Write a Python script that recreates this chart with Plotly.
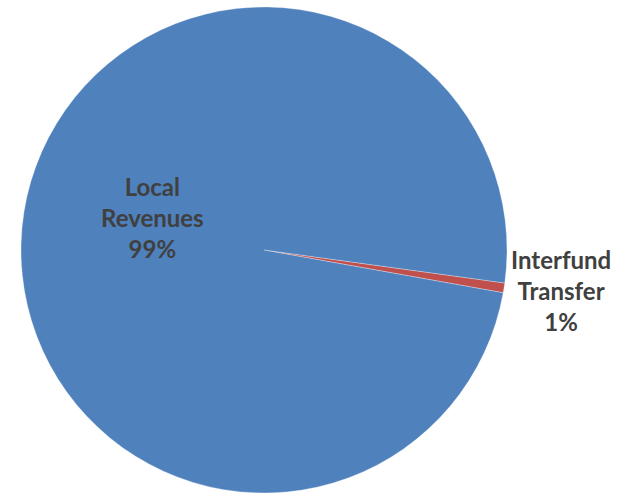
import plotly.graph_objects as go

labels = ["Interfund Transfer", "Local Revenues"]
values = [0.65, 99.35]
colors = ["#C0504D", "#4F81BD"]
label_lines = ["Interfund<br>Transfer", "Local<br>Revenues"]

W, H = 623, 495
total = sum(values)
pcts = [f"{round(v / total * 100):.0f}%" for v in values]

fig = go.Figure(go.Pie(
    labels=labels,
    values=values,
    sort=False,
    direction="clockwise",
    rotation=97.8,
    marker=dict(colors=colors, line=dict(color="rgba(255,255,255,0.5)", width=0.6)),
    textinfo="none",
    hoverinfo="label+percent",
    showlegend=False,
    domain=dict(x=[21 / W, 507 / W], y=[2 / H, 488 / H]),
))

font = dict(family="Lato, Open Sans, sans-serif", size=24, color="#404040")
positions = [(561, 290), (152, 218)]
for txt, pct, (px, py) in zip(label_lines, pcts, positions):
    fig.add_annotation(
        x=px / W, y=1 - py / H, xref="paper", yref="paper",
        text=f"<b>{txt}<br>{pct}</b>", showarrow=False, font=font,
        align="center", xanchor="center", yanchor="middle",
    )

fig.update_layout(
    width=W, height=H,
    margin=dict(l=0, r=0, t=0, b=0),
    paper_bgcolor="white", plot_bgcolor="white",
)
fig.write_html("out.html", config={"displayModeBar": False},
               post_script="document.body.style.margin='0';")
